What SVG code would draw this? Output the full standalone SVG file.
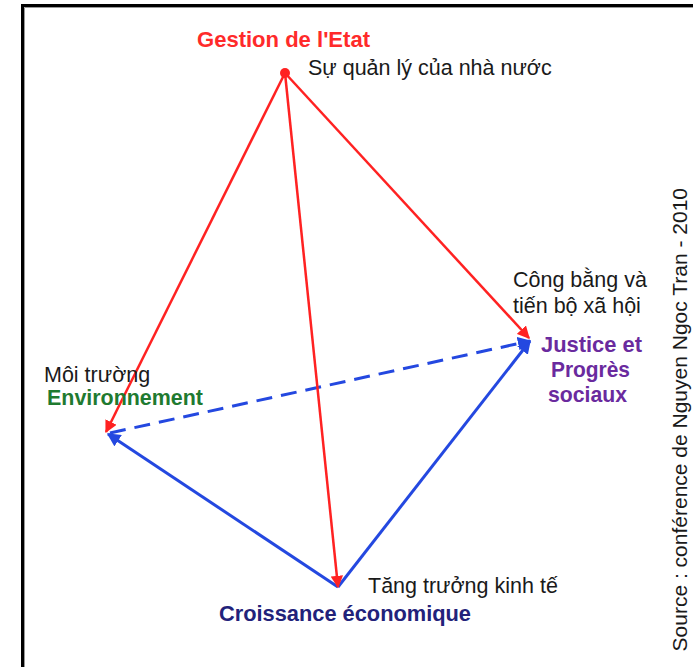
<svg xmlns="http://www.w3.org/2000/svg" width="693" height="667" viewBox="0 0 693 667">
<style>
text{font-family:"Liberation Sans",Arial,sans-serif;}
.vn{font-size:21.5px;fill:#1a1a1a;}
.fr{font-size:22px;font-weight:bold;}
.red{stroke:#ff2222;stroke-width:2.5;fill:none;}
.blue{stroke:#2448e0;stroke-width:3;fill:none;}
</style>
<defs>
<marker id="ar" viewBox="0 0 10 10" refX="9" refY="5" markerWidth="5" markerHeight="5" orient="auto" markerUnits="strokeWidth">
<path d="M0,0 L10,5 L0,10 z" fill="#ff2222"/>
</marker>
<marker id="ab" viewBox="0 0 10 10" refX="9" refY="5" markerWidth="4.5" markerHeight="4.5" orient="auto" markerUnits="strokeWidth">
<path d="M0,0 L10,5 L0,10 z" fill="#2448e0"/>
</marker>
</defs>
<rect x="0" y="0" width="693" height="667" fill="#ffffff"/>
<g id="frame">
<path d="M22.5,667 V5.5 H693" fill="none" stroke="#000" stroke-width="3"/>
<path d="M24.5,667 V7.5 H693" fill="none" stroke="#999" stroke-width="1"/>
</g>
<g id="connectors">
<line class="blue" x1="338" y1="587" x2="108" y2="434" marker-end="url(#ab)"/>
<line class="blue" x1="338" y1="587" x2="530" y2="341" marker-end="url(#ab)"/>
<line class="blue" x1="110" y1="433" x2="530" y2="341" stroke-dasharray="16,9" marker-end="url(#ab)"/>
<line class="red" x1="285" y1="73" x2="106" y2="432" marker-end="url(#ar)"/>
<line class="red" x1="285" y1="73" x2="529" y2="338" marker-end="url(#ar)"/>
<line class="red" x1="285" y1="73" x2="338" y2="587" marker-end="url(#ar)"/>
</g>
<g id="gestion">
<circle cx="285" cy="73" r="5" fill="#ff2222"/>
<text class="fr" x="197" y="47" fill="#ff2a2a" textLength="173" lengthAdjust="spacingAndGlyphs">Gestion de l'Etat</text>
<text class="vn" x="308" y="75">Sự quản lý của nhà nước</text>
</g>
<g id="environnement">
<text class="vn" x="44" y="382">Môi trường</text>
<text class="fr" x="47" y="405" fill="#1f7a30" textLength="156" lengthAdjust="spacingAndGlyphs">Environnement</text>
</g>
<g id="justice">
<text class="vn" x="513" y="287">Công bằng và</text>
<text class="vn" x="513" y="313">tiến bộ xã hội</text>
<text class="fr" x="541" y="352" fill="#6a2a9e" textLength="101" lengthAdjust="spacingAndGlyphs">Justice et</text>
<text class="fr" x="551" y="377" fill="#6a2a9e" textLength="79" lengthAdjust="spacingAndGlyphs">Progrès</text>
<text class="fr" x="548" y="402" fill="#6a2a9e" textLength="79" lengthAdjust="spacingAndGlyphs">sociaux</text>
</g>
<g id="croissance">
<text class="vn" x="368" y="593">Tăng trưởng kinh tế</text>
<text class="fr" x="219" y="621" fill="#22227a" textLength="252" lengthAdjust="spacingAndGlyphs">Croissance économique</text>
</g>
<g id="source">
<text transform="translate(687,188) rotate(-90)" text-anchor="end" font-size="21" fill="#1a1a1a">Source : conférence de Nguyen Ngoc Tran - 2010</text>
</g>
</svg>
